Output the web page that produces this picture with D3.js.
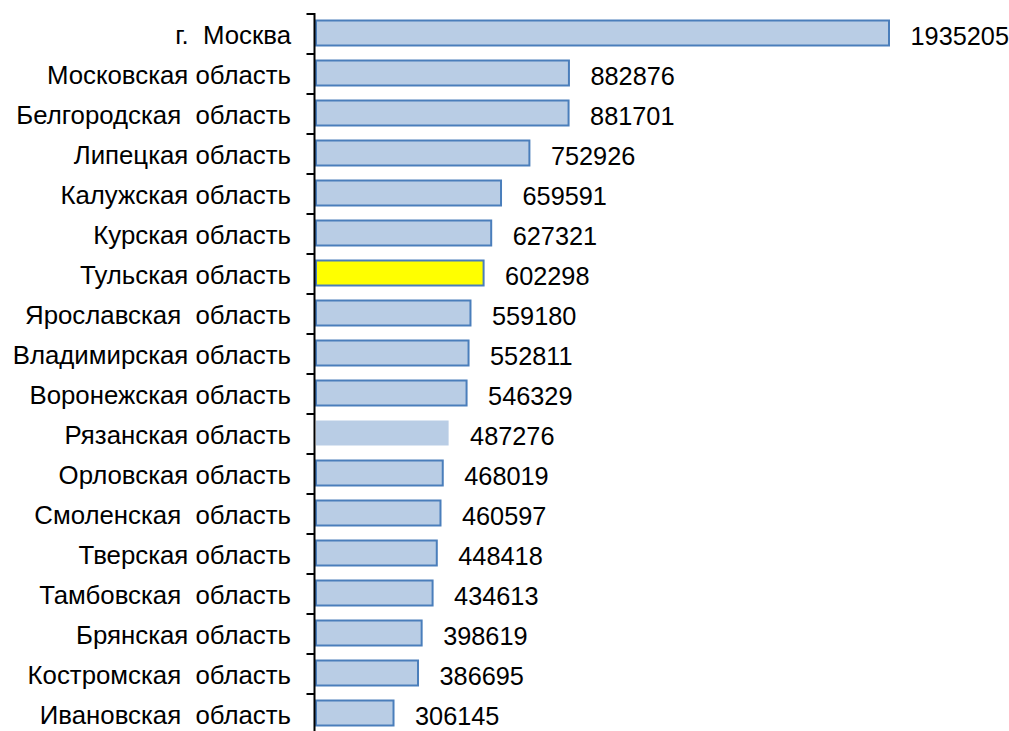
<!DOCTYPE html>
<html>
<head>
<meta charset="utf-8">
<script src="https://cdn.jsdelivr.net/npm/d3@7"></script>
<style>
body { margin: 0; background: #fff; }
text { font-family: "Liberation Sans", Arial, sans-serif; white-space: pre; }
</style>
</head>
<body>
<div id="vis"></div>
<script>
// regions and values, top to bottom
var regions = [
  "г.  Москва",
  "Московская область",
  "Белгородская  область",
  "Липецкая область",
  "Калужская область",
  "Курская область",
  "Тульская область",
  "Ярославская  область",
  "Владимирская область",
  "Воронежская область",
  "Рязанская область",
  "Орловская область",
  "Смоленская  область",
  "Тверская область",
  "Тамбовская  область",
  "Брянская область",
  "Костромская  область",
  "Ивановская  область"
];
var values = [1935205, 882876, 881701, 752926, 659591, 627321, 602298, 559180, 552811,
              546329, 487276, 468019, 460597, 448418, 434613, 398619, 386695, 306145];
var highlight = "Тульская область";
var noBorder = "Рязанская область";

var data = regions.map((r, i) => ({ region: r, value: values[i] }));

var w = 1009;
var h = 731;
var axisX = 314.5;

var svg = d3.select("#vis")
  .append("svg")
  .attr("width", w)
  .attr("height", h);

const yScale = d3.scaleBand()
  .domain(regions)
  .range([14, 734])
  .padding(0);

const xScale = d3.scaleLinear()
  .domain([48000, 1935205])
  .range([axisX + 0.5, 889]);

// bars
svg.selectAll("rect.bar")
  .data(data)
  .enter()
  .append("rect")
  .attr("class", "bar")
  .attr("x", xScale(48000) + 1)
  .attr("y", d => yScale(d.region) + 6.5)
  .attr("width", d => xScale(d.value) - xScale(48000) - 1)
  .attr("height", 25)
  .attr("fill", d => d.region === highlight ? "#ffff00" : "#b9cde5")
  .attr("stroke", d => d.region === noBorder ? "none" : "#4a7ebb")
  .attr("stroke-width", 2);

// value labels
svg.selectAll("text.val")
  .data(data)
  .enter()
  .append("text")
  .attr("class", "val")
  .attr("x", d => xScale(d.value) + 21.5)
  .attr("y", d => yScale(d.region) + yScale.bandwidth() / 2 + 11)
  .attr("font-size", "25.3px")
  .attr("fill", "#000")
  .text(d => d.value);

// category labels
svg.selectAll("text.cat")
  .data(data)
  .enter()
  .append("text")
  .attr("class", "cat")
  .attr("x", 291)
  .attr("y", d => yScale(d.region) + yScale.bandwidth() / 2 + 9.5)
  .attr("text-anchor", "end")
  .attr("font-size", "25.8px")
  .attr("fill", "#000")
  .text(d => d.region);

// axis line and tick marks between categories
svg.append("line")
  .attr("x1", axisX).attr("x2", axisX)
  .attr("y1", yScale.range()[0] - 1).attr("y2", h)
  .attr("stroke", "#000")
  .attr("stroke-width", 2);

svg.selectAll("line.tick")
  .data(regions)
  .enter()
  .append("line")
  .attr("class", "tick")
  .attr("x1", axisX - 8).attr("x2", axisX)
  .attr("y1", d => yScale(d)).attr("y2", d => yScale(d))
  .attr("stroke", "#000")
  .attr("stroke-width", 2);
</script>
</body>
</html>
